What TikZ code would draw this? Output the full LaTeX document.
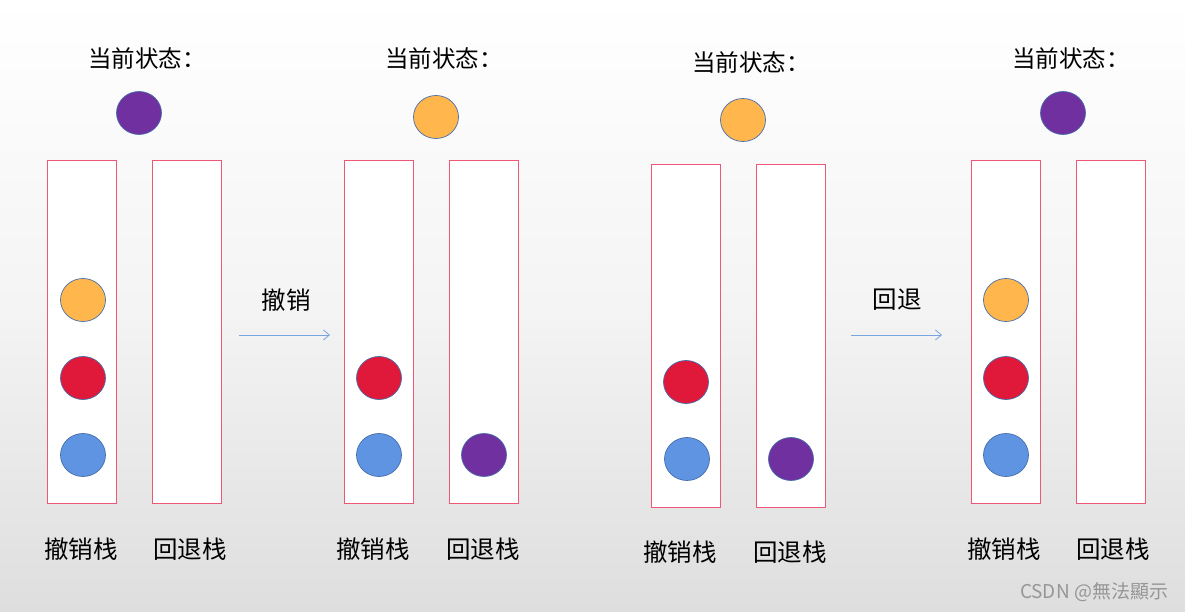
\documentclass[tikz,border=0pt]{standalone}
\usepackage{fontspec}
\setmainfont{Noto Sans CJK SC}
\usetikzlibrary{shapes.geometric,arrows.meta}
\definecolor{cpurple}{RGB}{112,48,160}
\definecolor{corange}{RGB}{255,183,77}
\definecolor{cred}{RGB}{224,24,58}
\definecolor{cblue}{RGB}{94,148,226}
\definecolor{cedge}{RGB}{70,110,170}
\definecolor{cbox}{RGB}{238,88,118}
\definecolor{carrow}{RGB}{120,165,225}
\definecolor{bgbot}{RGB}{222,222,222}
\tikzset{
  stackbox/.style={draw=cbox, line width=0.9pt, fill=white, minimum width=69pt, minimum height=343pt, inner sep=0pt},
  ball/.style={ellipse, draw=cedge, line width=0.7pt, minimum width=45pt, minimum height=43pt, inner sep=0pt},
  title/.style={font=\fontsize{23.5}{27}\selectfont, inner sep=0pt},
  lbl/.style={font=\fontsize{24.5}{28}\selectfont, inner sep=0pt},
  flow/.style={draw=carrow, line width=0.8pt, -{Straight Barb[length=6pt,width=10pt]}},
}
\begin{document}
\begin{tikzpicture}[x=1pt,y=-1pt]
\shade[top color=white, bottom color=bgbot, middle color={rgb,255:red,244;green,244;blue,244}] (0,0) rectangle (1185,612);
\useasboundingbox (0,0) rectangle (1185,612);
% group 1
\node[title] (t1) at (147,59) {当前状态：};
\node[ball, fill=cpurple] (c1) at (139,113) {};
\node[stackbox] (u1) at (81.5,331.5) {};
\node[stackbox] (r1) at (187,331.5) {};
\node[ball, fill=corange] (u1a) at (83,300) {};
\node[ball, fill=cred] (u1b) at (83,378) {};
\node[ball, fill=cblue] (u1c) at (83,455) {};
\node[lbl] (lu1) at (81,549) {撤销栈};
\node[lbl] (lr1) at (190,549) {回退栈};
% arrow 1
\node[lbl] (a1l) at (286,300) {撤销};
\coordinate (a1s) at (239,335);
\coordinate (a1e) at (330,335);
\draw[flow] (a1s) -- (a1e);
% group 2
\node[title] (t2) at (444,59) {当前状态：};
\node[ball, fill=corange] (c2) at (436,117) {};
\node[stackbox] (u2) at (378.5,331.5) {};
\node[stackbox] (r2) at (483.5,331.5) {};
\node[ball, fill=cred] (u2b) at (379,378) {};
\node[ball, fill=cblue] (u2c) at (379,455) {};
\node[ball, fill=cpurple] (r2a) at (484,455) {};
\node[lbl] (lu2) at (373,549) {撤销栈};
\node[lbl] (lr2) at (483,549) {回退栈};
% group 3
\node[title] (t3) at (751,63) {当前状态：};
\node[ball, fill=corange] (c3) at (743,120) {};
\node[stackbox] (u3) at (686,335.5) {};
\node[stackbox] (r3) at (791,335.5) {};
\node[ball, fill=cred] (u3b) at (686,382) {};
\node[ball, fill=cblue] (u3c) at (687,459) {};
\node[ball, fill=cpurple] (r3a) at (791,459) {};
\node[lbl] (lu3) at (680,552) {撤销栈};
\node[lbl] (lr3) at (790,552) {回退栈};
% arrow 2
\node[lbl] (a2l) at (897,300) {回退};
\coordinate (a2s) at (851,335);
\coordinate (a2e) at (942,335);
\draw[flow] (a2s) -- (a2e);
% group 4
\node[title] (t4) at (1071,59) {当前状态：};
\node[ball, fill=cpurple] (c4) at (1063,113) {};
\node[stackbox] (u4) at (1006,331.5) {};
\node[stackbox] (r4) at (1111,331.5) {};
\node[ball, fill=corange] (u4a) at (1006,300) {};
\node[ball, fill=cred] (u4b) at (1006,378) {};
\node[ball, fill=cblue] (u4c) at (1006,455) {};
\node[lbl] (lu4) at (1004,549) {撤销栈};
\node[lbl] (lr4) at (1113,549) {回退栈};
% watermark
\node[font=\fontsize{19}{22}\selectfont, text={rgb,255:red,150;green,150;blue,150}, inner sep=0pt] (wm) at (1094,592) {CSDN @無法顯示};
\end{tikzpicture}
\end{document}
